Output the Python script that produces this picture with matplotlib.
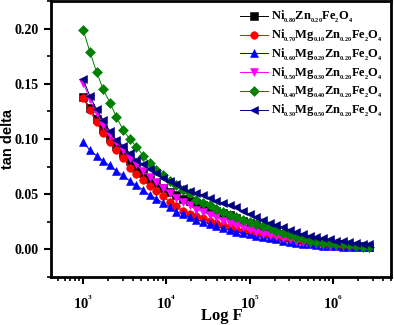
import math
import matplotlib
matplotlib.use("Agg")
import matplotlib.pyplot as plt
from matplotlib.font_manager import FontProperties
from matplotlib.ticker import MultipleLocator, LogLocator, NullFormatter, FormatStrFormatter, FuncFormatter

plt.rcParams['mathtext.fontset'] = 'custom'
plt.rcParams['mathtext.rm'] = 'Liberation Serif:bold'
plt.rcParams['mathtext.bf'] = 'Liberation Serif:bold'
plt.rcParams['mathtext.it'] = 'Liberation Serif:bold'

freq = [1000, 1202, 1445, 1738, 2089, 2512, 3020, 3631, 4365, 5248,
        6310, 7586, 9120, 10965, 13183, 15849, 19055, 22909, 27542, 33113,
        39811, 47863, 57544, 69183, 83176, 100000, 120226, 144544, 173780, 208930,
        251189, 301995, 363078, 436516, 524807, 630957, 758578, 912011, 1096478, 1318257,
        1584893, 1905461, 2290868, 2754229]

s1 = [0.138, 0.128, 0.118, 0.109, 0.101, 0.094, 0.087, 0.080, 0.074, 0.069,
      0.064, 0.060, 0.056, 0.052, 0.049, 0.046, 0.044, 0.042, 0.040, 0.037,
      0.035, 0.033, 0.031, 0.028, 0.026, 0.024, 0.022, 0.020, 0.018, 0.016,
      0.014, 0.012, 0.011, 0.0095, 0.0085, 0.0075, 0.0065, 0.0058, 0.005, 0.0045,
      0.004, 0.0035, 0.003, 0.0025]
s2 = [0.137, 0.126, 0.115, 0.105, 0.0975, 0.090, 0.083, 0.074, 0.068, 0.063,
      0.057, 0.053, 0.048, 0.043, 0.039, 0.035, 0.032, 0.030, 0.028, 0.026,
      0.024, 0.022, 0.020, 0.0185, 0.017, 0.016, 0.0145, 0.013, 0.012, 0.011,
      0.0095, 0.0085, 0.0075, 0.0065, 0.0055, 0.005, 0.0045, 0.004, 0.0035, 0.003,
      0.003, 0.0025, 0.002, 0.002]
s3 = [0.097, 0.090, 0.085, 0.080, 0.076, 0.071, 0.067, 0.062, 0.058, 0.054,
      0.049, 0.046, 0.042, 0.038, 0.034, 0.032, 0.029, 0.027, 0.025, 0.023,
      0.021, 0.019, 0.0175, 0.016, 0.015, 0.0135, 0.012, 0.011, 0.010, 0.009,
      0.008, 0.007, 0.006, 0.005, 0.0045, 0.004, 0.0035, 0.003, 0.003, 0.0025,
      0.0025, 0.002, 0.002, 0.002]
s4 = [0.151, 0.136, 0.124, 0.113, 0.104, 0.097, 0.090, 0.083, 0.077, 0.071,
      0.066, 0.061, 0.056, 0.051, 0.047, 0.043, 0.040, 0.036, 0.034, 0.031,
      0.029, 0.026, 0.024, 0.022, 0.020, 0.018, 0.016, 0.014, 0.013, 0.012,
      0.010, 0.009, 0.008, 0.0065, 0.0055, 0.0048, 0.004, 0.0035, 0.003, 0.003,
      0.0025, 0.002, 0.002, 0.0015]
s5 = [0.199, 0.179, 0.161, 0.145, 0.133, 0.120, 0.108, 0.100, 0.093, 0.085,
      0.078, 0.072, 0.067, 0.062, 0.058, 0.054, 0.051, 0.045, 0.042, 0.040,
      0.037, 0.034, 0.031, 0.029, 0.027, 0.025, 0.023, 0.021, 0.019, 0.017,
      0.015, 0.013, 0.011, 0.009, 0.008, 0.007, 0.0062, 0.0055, 0.005, 0.0045,
      0.004, 0.003, 0.0025, 0.002]
s6 = [0.154, 0.139, 0.127, 0.117, 0.107, 0.099, 0.094, 0.087, 0.081, 0.077,
      0.073, 0.069, 0.065, 0.062, 0.059, 0.056, 0.053, 0.051, 0.049, 0.047,
      0.044, 0.042, 0.040, 0.038, 0.035, 0.032, 0.029, 0.027, 0.024, 0.022,
      0.020, 0.018, 0.0155, 0.014, 0.0125, 0.011, 0.010, 0.009, 0.008, 0.0072,
      0.0065, 0.0058, 0.005, 0.0045]

labels = [r'$\mathrm{Ni_{{}_{0.80}}Zn_{{}_{0.20}}Fe_{{}_{2}}O_{{}_{4}}}$',
          r'$\mathrm{Ni_{{}_{0.70}}Mg_{{}_{0.10}}Zn_{{}_{0.20}}Fe_{{}_{2}}O_{{}_{4}}}$',
          r'$\mathrm{Ni_{{}_{0.60}}Mg_{{}_{0.20}}Zn_{{}_{0.20}}Fe_{{}_{2}}O_{{}_{4}}}$',
          r'$\mathrm{Ni_{{}_{0.50}}Mg_{{}_{0.30}}Zn_{{}_{0.20}}Fe_{{}_{2}}O_{{}_{4}}}$',
          r'$\mathrm{Ni_{{}_{0.40}}Mg_{{}_{0.40}}Zn_{{}_{0.20}}Fe_{{}_{2}}O_{{}_{4}}}$',
          r'$\mathrm{Ni_{{}_{0.30}}Mg_{{}_{0.50}}Zn_{{}_{0.20}}Fe_{{}_{2}}O_{{}_{4}}}$']
series = [s1, s2, s3, s4, s5, s6]
colors = ['black', 'red', 'blue', 'magenta', 'green', 'navy']
markers = ['s', 'o', '^', 'v', 'D', '<']

fig = plt.figure(figsize=(3.94, 3.25), dpi=100)
ax = fig.add_axes([0.1294, 0.1477, 0.8630, 0.8492])

for s, c, m, lab in zip(series, colors, markers, labels):
    ax.plot(freq, s, color=c, marker=m, markersize=5.5 if m != 'D' else 5,
            linewidth=0.7, markeredgewidth=0.4, label=lab)

ax.set_xscale('log')
ax.set_xlim(410, 5.0e6)
ax.set_ylim(-0.025, 0.225)
ax.yaxis.set_major_locator(MultipleLocator(0.05))
ax.yaxis.set_minor_locator(MultipleLocator(0.025))
ax.yaxis.set_major_formatter(FormatStrFormatter('%.2f'))
ax.xaxis.set_major_locator(LogLocator(base=10, numticks=20))
ax.xaxis.set_minor_locator(LogLocator(base=10, subs=range(2, 10), numticks=50))
ax.xaxis.set_minor_formatter(NullFormatter())
ax.xaxis.set_major_formatter(FuncFormatter(
    lambda v, p: r'$\mathrm{10^{{}^{%d}}}$' % round(math.log10(v))))

ax.tick_params(which='major', direction='out', length=5, width=1.5, labelsize=10, pad=4)
ax.tick_params(which='minor', direction='out', length=3, width=1.2)
ax.tick_params(axis='x', which='major', labelsize=10.5, pad=8)
for sp in ax.spines.values():
    sp.set_linewidth(2)

ax.set_xlabel('Log F', fontproperties=FontProperties(family='Liberation Serif', weight='bold', size=12))
ax.xaxis.set_label_coords(0.503, -0.114)
ax.set_ylabel('tan delta', fontproperties=FontProperties(family='Liberation Sans', weight='bold', size=10.5))
ax.yaxis.set_label_coords(-0.106, 0.50)

leg = ax.legend(loc='upper right', frameon=False, fontsize=9, handlelength=2.3,
                handletextpad=0.2, labelspacing=0.22, borderaxespad=0.25,
                bbox_to_anchor=(1.0, 1.0))

fig.canvas.draw()
for t in ax.get_yticklabels():
    t.set_fontfamily('Liberation Serif')
    t.set_fontweight('bold')

fig.savefig('out.png', dpi=100)
